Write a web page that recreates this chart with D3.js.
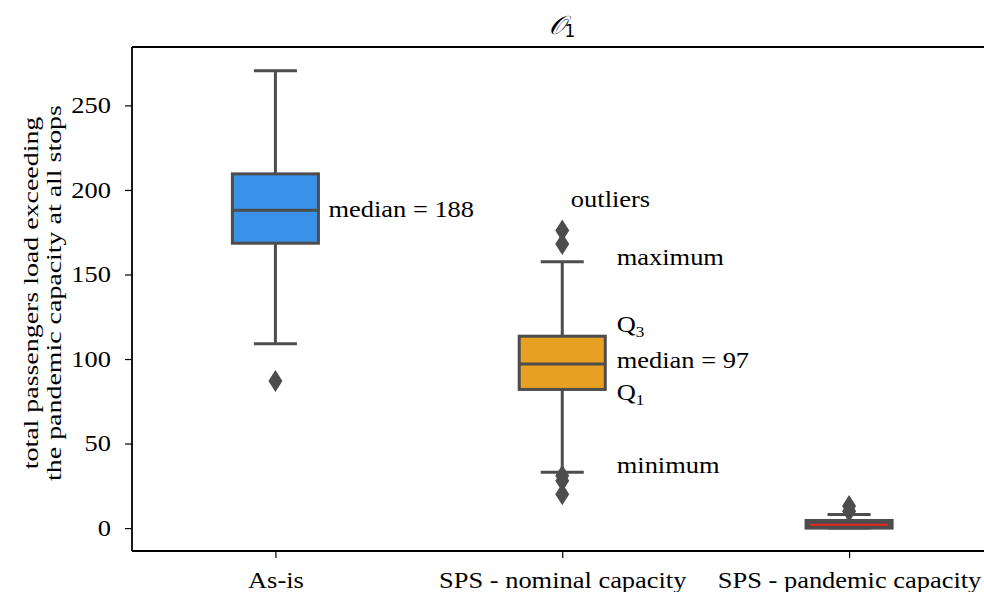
<!DOCTYPE html>
<html>
<head>
<meta charset="utf-8">
<script src="https://cdn.jsdelivr.net/npm/d3@7"></script>
<style>
html,body{margin:0;padding:0;background:#fff;}
svg{display:block;}
</style>
</head>
<body>
<svg id="chart" width="984" height="592"></svg>
<script>
// ---- data ----
const categories = ["As-is", "SPS - nominal capacity", "SPS - pandemic capacity"];
const q1 = [168.5, 82, 0];
const medians = [188, 97, 2];
const q3 = [209.5, 113.5, 4.5];
const whiskerLow = [109, 33, 0];
const whiskerHigh = [270.5, 157.5, 8];
const outliers = [[87], [176, 168, 31, 28, 20], [10, 13]];
const boxColors = ["#3a92e8", "#e8a023", "#4d4d4d"];
const medianColors = ["#4d4d4d", "#4d4d4d", "#e8261c"];
const yTicks = [0, 50, 100, 150, 200, 250];
// annotations: [category index, x offset in category units, value, text, subscript]
const annotations = [
  [0, 0.185, 187, "median = 188", ""],
  [1, 0.03, 193, "outliers", ""],
  [1, 0.19, 159, "maximum", ""],
  [1, 0.19, 119.5, "Q", "3"],
  [1, 0.19, 98, "median = 97", ""],
  [1, 0.19, 79, "Q", "1"],
  [1, 0.19, 36, "minimum", ""]
];

const svg = d3.select("#chart");
const margin = {left: 132, top: 47, right: -8.5, bottom: 41};
const W = 984, H = 592;
const x0 = margin.left, x1 = W - margin.right;
const y0 = H - margin.bottom, y1 = margin.top;

const x = d3.scaleLinear().domain([-0.5, 2.5]).range([x0, x1]);
const y = d3.scaleLinear().domain([-13.55, 284.55]).range([y0, y1]);
const bw = 0.3;
const serif = "'Liberation Serif', 'Times New Roman', serif";
const lineCol = "#4d4d4d";
const FS = 23, SX = 1.15;

// widen a text element horizontally around its anchor point
function widen(sel, sx) {
  sel.each(function () {
    const t = d3.select(this);
    const tx = +t.attr("x") || 0, ty = +t.attr("y") || 0;
    t.attr("x", 0).attr("y", 0).attr("transform", `translate(${tx},${ty}) scale(${sx},1)`);
  });
}

// boxes
const g = svg.append("g");
categories.forEach((c, i) => {
  const gi = g.append("g");
  gi.append("line").attr("x1", x(i)).attr("x2", x(i)).attr("y1", y(q3[i])).attr("y2", y(whiskerHigh[i]))
    .attr("stroke", lineCol).attr("stroke-width", 3);
  gi.append("line").attr("x1", x(i)).attr("x2", x(i)).attr("y1", y(q1[i])).attr("y2", y(whiskerLow[i]))
    .attr("stroke", lineCol).attr("stroke-width", 3);
  [whiskerHigh[i], whiskerLow[i]].forEach(v => {
    gi.append("line").attr("x1", x(i - bw / 4)).attr("x2", x(i + bw / 4)).attr("y1", y(v)).attr("y2", y(v))
      .attr("stroke", lineCol).attr("stroke-width", 3);
  });
  gi.append("rect").attr("x", x(i - bw / 2)).attr("width", x(i + bw / 2) - x(i - bw / 2))
    .attr("y", y(q3[i])).attr("height", y(q1[i]) - y(q3[i]))
    .attr("fill", boxColors[i]).attr("stroke", lineCol).attr("stroke-width", 3);
  gi.append("line").attr("x1", x(i - bw / 2) + (i === 2 ? 4 : 0)).attr("x2", x(i + bw / 2) - (i === 2 ? 4 : 0))
    .attr("y1", y(medians[i])).attr("y2", y(medians[i]))
    .attr("stroke", medianColors[i]).attr("stroke-width", i === 2 ? 2 : 3);
  outliers[i].forEach(v => {
    const cx = x(i), cy = y(v);
    gi.append("path")
      .attr("d", `M${cx},${cy - 11}L${cx + 7},${cy}L${cx},${cy + 11}L${cx - 7},${cy}Z`)
      .attr("fill", lineCol);
  });
});

// spines
[[x0, y1, x0, y0], [x0, y0, x1, y0], [x0, y1, x1, y1], [x1, y1, x1, y0]].forEach(s => {
  svg.append("line").attr("x1", s[0]).attr("y1", s[1]).attr("x2", s[2]).attr("y2", s[3])
    .attr("stroke", "#000").attr("stroke-width", 1.8);
});

// y axis
const yAxis = svg.append("g").attr("transform", `translate(${x0},0)`)
  .call(d3.axisLeft(y).tickValues(yTicks).tickSize(7).tickPadding(14));
yAxis.select(".domain").remove();
yAxis.selectAll("line").attr("stroke", "#000").attr("stroke-width", 1.2);
yAxis.selectAll("text").attr("font-family", serif).attr("font-size", FS).attr("fill", "#000").call(widen, SX);

// x axis
const xAxis = svg.append("g").attr("transform", `translate(0,${y0})`)
  .call(d3.axisBottom(x).tickValues([0, 1, 2]).tickFormat(i => categories[i]).tickSize(7).tickPadding(14));
xAxis.select(".domain").remove();
xAxis.selectAll("line").attr("stroke", "#000").attr("stroke-width", 1.2);
xAxis.selectAll("text").attr("font-family", serif).attr("font-size", FS).attr("fill", "#000").call(widen, SX);

// y label
const yl = svg.append("text").attr("transform", `translate(38,293) rotate(-90) scale(1.33,1)`)
  .attr("text-anchor", "middle").attr("font-family", serif).attr("font-size", 21).attr("fill", "#000");
yl.append("tspan").attr("x", 0).attr("dy", 0).text("total passengers load exceeding");
yl.append("tspan").attr("x", 0).attr("dy", 23).text("the pandemic capacity at all stops");

// title
const t = svg.append("text").attr("x", 562).attr("y", 34).attr("text-anchor", "middle")
  .attr("font-family", "'DejaVu Sans', sans-serif").attr("font-size", 26).attr("fill", "#000");
t.append("tspan").attr("font-family", "'DejaVu Serif', serif").attr("font-style", "italic").text("\uD835\uDCAA");
t.append("tspan").attr("font-size", 17).attr("dy", 3).text("1");

// annotations
annotations.forEach(a => {
  const tx = svg.append("text").attr("x", x(a[0] + a[1])).attr("y", y(a[2]))
    .attr("dominant-baseline", "middle").attr("font-family", serif).attr("font-size", FS).attr("fill", "#000");
  tx.append("tspan").text(a[3]);
  if (a[4]) tx.append("tspan").attr("font-size", 15).attr("dy", 7).text(a[4]);
  widen(tx, SX);
});
</script>
</body>
</html>
